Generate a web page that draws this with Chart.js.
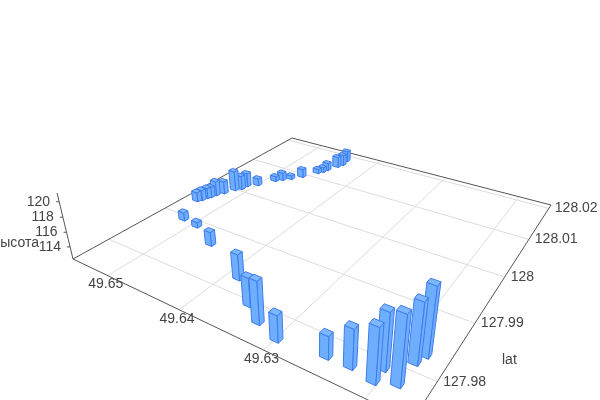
<!DOCTYPE html>
<html>
<head>
<meta charset="utf-8">
<script src="https://cdn.jsdelivr.net/npm/chart.js@4"></script>
<style>body{margin:0;background:#fff}canvas{display:block}</style>
</head>
<body>
<canvas id="chart" width="600" height="400"></canvas>
<script>
// ================= DATA =================
var lon = [49.6251,49.6228,49.6204,49.6204,49.6186,49.6185,49.6181,49.6386,49.6350,49.6327,49.6299,49.6517,49.6493,49.6453,
  49.6537,49.6534,49.6532,49.6530,49.6528,49.6523,49.6517,49.6512,49.6511,49.6501,
  49.6489,49.6483,49.6475,49.6466,49.6455,49.6451,49.6449,49.6443,49.6440,49.6442];
var lat = [127.9772,127.9773,127.9768,127.9788,127.9777,127.9812,127.9827,127.9826,127.9794,127.9776,127.9765,127.9892,127.9888,127.9864,
  127.9943,127.9949,127.9958,127.9963,127.9972,127.9983,128.0000,128.0008,128.0020,128.0032,
  128.0058,128.0067,128.0077,128.0093,128.0118,128.0126,128.0136,128.0155,128.0166,128.0183];
var height = [115.2,117.2,119.0,119.3,120.7,119.8,120.8,115.8,116.1,117.8,115.7,113.5,113.1,114.3,
  113.7,113.9,113.9,113.9,114.5,114.2,115.3,114.4,114.4,113.4,
  113.1,113.5,112.9,113.6,113.0,113.1,113.5,114.0,114.0,114.0];
var lonTicks = [49.63, 49.64, 49.65];
var latTicks = [127.98, 127.99, 128, 128.01, 128.02];
var zTicks = [114, 116, 118, 120];

var lonRange = [49.616, 49.6555];
var latRange = [127.9745, 128.0212];
var zRange = [112.3, 121.1];
var halfLon = 0.00045, halfLat = 0.0004;

// ================= CAMERA =================
// floor corners on screen: (lonMin,latMin) (lonMax,latMin) (lonMax,latMax) (lonMin,latMax)
var floor = [[412,421],[73,259],[292,138],[551,205]];
var upVanish = [316,1264];

function makeFloor(q) {
  var dx1=q[1][0]-q[2][0], dx2=q[3][0]-q[2][0], sx=q[0][0]-q[1][0]+q[2][0]-q[3][0];
  var dy1=q[1][1]-q[2][1], dy2=q[3][1]-q[2][1], sy=q[0][1]-q[1][1]+q[2][1]-q[3][1];
  var den=dx1*dy2-dx2*dy1;
  var g=(sx*dy2-dx2*sy)/den, h=(dx1*sy-sx*dy1)/den;
  return {a:q[1][0]-q[0][0]+g*q[1][0], b:q[3][0]-q[0][0]+h*q[3][0], c:q[0][0],
          d:q[1][1]-q[0][1]+g*q[1][1], e:q[3][1]-q[0][1]+h*q[3][1], f:q[0][1], g:g, h:h};
}
var H = makeFloor(floor);
var kTop = -0.0616*(1+H.g);

function project(chart, x, y, z) {
  var area = chart.chartArea, s = chart.scales;
  var u = (s.x.getPixelForValue(x)-area.left)/area.width;
  var v = (area.bottom-s.y.getPixelForValue(y))/area.height;
  var n = (area.bottom-s.z.getPixelForValue(z))/area.height;
  var px = H.a*u+H.b*v+H.c, py = H.d*u+H.e*v+H.f, w = H.g*u+H.h*v+1;
  var k = kTop*n;
  return [(px+k*upVanish[0])/(w+k), (py+k*upVanish[1])/(w+k)];
}

function line(ctx, a, b) {
  ctx.beginPath(); ctx.moveTo(a[0],a[1]); ctx.lineTo(b[0],b[1]); ctx.stroke();
}
function face(ctx, pts) {
  ctx.beginPath();
  pts.forEach(function (p,i) { if (i) ctx.lineTo(p[0],p[1]); else ctx.moveTo(p[0],p[1]); });
  ctx.closePath(); ctx.fill(); ctx.stroke();
}

// ================= 3D PLUGIN =================
var scene3d = {
  id: "scene3d",
  afterDatasetsDraw: function (chart) {
    var ctx = chart.ctx, z0 = zRange[0];
    ctx.save();
    ctx.lineWidth = 1;

    // grid
    ctx.strokeStyle = "#dcdcdc";
    lonTicks.concat([49.62]).forEach(function (t) {
      line(ctx, project(chart,t,latRange[0],z0), project(chart,t,latRange[1],z0));
    });
    latTicks.forEach(function (t) {
      line(ctx, project(chart,lonRange[0],t,z0), project(chart,lonRange[1],t,z0));
    });

    // axes
    ctx.strokeStyle = "#555";
    var c1 = project(chart,lonRange[0],latRange[0],z0), c2 = project(chart,lonRange[1],latRange[0],z0);
    var c3 = project(chart,lonRange[1],latRange[1],z0), c4 = project(chart,lonRange[0],latRange[1],z0);
    line(ctx,c1,c2); line(ctx,c2,c3); line(ctx,c3,c4); line(ctx,c4,c1);
    line(ctx,c2,project(chart,lonRange[1],latRange[0],zRange[1]));

    // labels
    ctx.fillStyle = "#444";
    ctx.font = "14px 'Liberation Sans'";
    ctx.textBaseline = "middle";
    ctx.textAlign = "center";
    lonTicks.forEach(function (t) {
      var p = project(chart,t,latRange[0],z0);
      ctx.fillText(String(t), p[0]-2, p[1]+9);
    });
    ctx.textAlign = "left";
    latTicks.forEach(function (t) {
      var p = project(chart,lonRange[0],t,z0);
      ctx.fillText(String(t), p[0]+6, p[1]);
    });
    ctx.fillText("lat", 502, 360);
    ctx.textAlign = "right";
    zTicks.forEach(function (t) {
      var p = project(chart,lonRange[1],latRange[0],t);
      ctx.strokeStyle = "#555";
      line(ctx,[p[0]-3,p[1]],p);
      ctx.fillText(String(t), p[0]-9, p[1]);
    });
    ctx.fillText("высота", 39, 243);

    // bars, far ones first
    var order = lon.map(function (v,i) { return i; });
    order.sort(function (a,b) {
      return project(chart,lon[a],lat[a],z0)[1]-project(chart,lon[b],lat[b],z0)[1];
    });
    ctx.strokeStyle = "#3f7ceb";
    order.forEach(function (i) {
      var x1=lon[i]-halfLon, x2=lon[i]+halfLon, y1=lat[i]-halfLat, y2=lat[i]+halfLat, h=height[i];
      var b11=project(chart,x1,y1,z0), b21=project(chart,x2,y1,z0), b12=project(chart,x1,y2,z0);
      var t11=project(chart,x1,y1,h), t21=project(chart,x2,y1,h), t12=project(chart,x1,y2,h), t22=project(chart,x2,y2,h);
      ctx.fillStyle = "#6eaeff";
      face(ctx,[b21,b11,t11,t21]);
      face(ctx,[b11,b12,t12,t11]);
      ctx.fillStyle = "#7db8ff";
      face(ctx,[t11,t21,t22,t12]);
    });
    ctx.restore();
  }
};

// ================= CHART =================
var chart = new Chart(document.getElementById("chart").getContext("2d"), {
  type: "scatter",
  data: {
    datasets: [{
      label: "высота",
      data: lon.map(function (v,i) { return {x:v, y:lat[i]}; }),
      pointRadius: 0
    }]
  },
  options: {
    responsive: false,
    animation: false,
    plugins: { legend: {display:false}, tooltip: {enabled:false} },
    scales: {
      x: { type:"linear", min:lonRange[0], max:lonRange[1], display:false },
      y: { type:"linear", min:latRange[0], max:latRange[1], display:false },
      z: { type:"linear", axis:"y", min:zRange[0], max:zRange[1], display:false }
    }
  },
  plugins: [scene3d]
});
</script>
</body>
</html>
